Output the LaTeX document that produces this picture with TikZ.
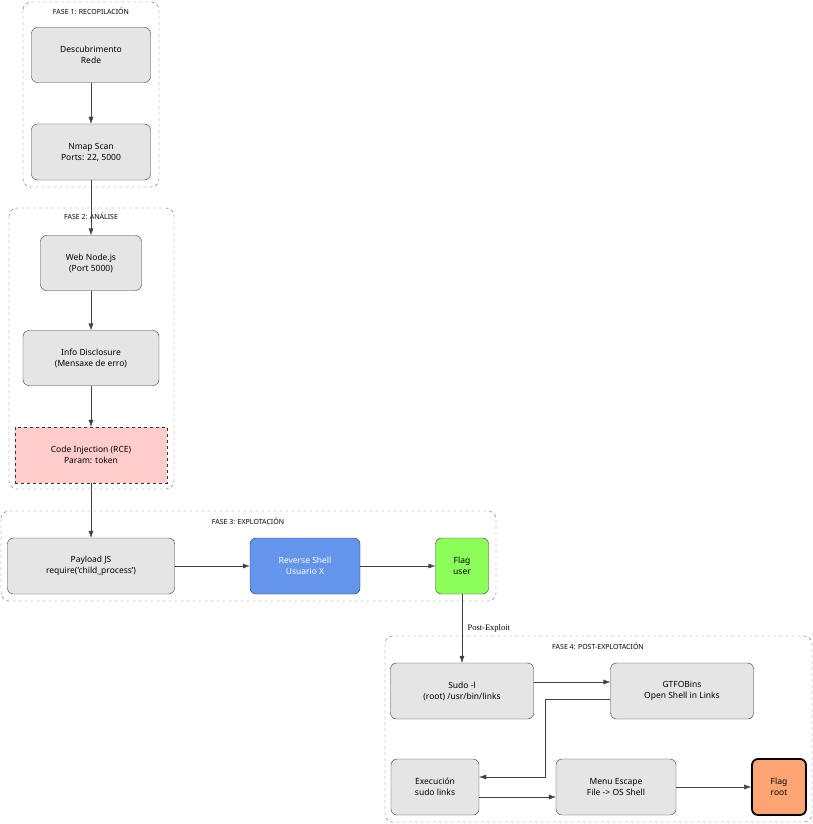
\documentclass[tikz,border=0pt]{standalone}
\usepackage{fontspec}
\setmainfont{Noto Sans}
\newfontfamily\serifpart{Liberation Serif}
\usetikzlibrary{arrows.meta}
\begin{document}
\begin{tikzpicture}[x=1pt,y=-1pt,
  box/.style={draw=black!80,rounded corners=6pt,fill=black!10,align=center,font=\fontsize{8.5}{11}\selectfont,inner sep=0pt},
  cl/.style={draw=black!60,dashed,rounded corners=8pt},
  cllab/.style={font=\fontsize{7}{8}\selectfont,anchor=center},
  ar/.style={draw=black!75,-{Latex[length=7pt,width=5pt]}}]
\useasboundingbox (0,0) rectangle (813,824);
% clusters
\draw[cl] (23,2) rectangle (159,187);
\node[cllab] (l1) at (91,11) {FASE 1: RECOPILACIÓN};
\draw[cl] (9,208) rectangle (174,489);
\node[cllab] (l2) at (91,216) {FASE 2: ANÁLISE};
\draw[cl] (1,511) rectangle (496,601);
\node[cllab] (l3) at (248,521) {FASE 3: EXPLOTACIÓN};
\draw[cl] (385,636) rectangle (812,822);
\node[cllab] (l4) at (598,646) {FASE 4: POST-EXPLOTACIÓN};
% nodes
\node[box,minimum width=119pt,minimum height=55pt] (desc) at (91,55) {Descubrimento\\Rede};
\node[box,minimum width=119pt,minimum height=56pt] (nmap) at (91,152) {Nmap Scan\\Ports: 22, 5000};
\node[box,minimum width=101pt,minimum height=55pt] (web) at (91,263) {Web Node.js\\(Port 5000)};
\node[box,minimum width=136pt,minimum height=55pt] (info) at (91,358) {Info Disclosure\\(Mensaxe de erro)};
\node[box,rounded corners=0pt,dashed,fill=red!20,minimum width=152pt,minimum height=56pt] (code) at (91,455) {Code Injection (RCE)\\Param: token};
\node[box,minimum width=167pt,minimum height=56pt] (pay) at (91,566) {Payload JS\\require('child\_process')};
\node[box,fill={rgb,255:red,100;green,149;blue,237},text=white,minimum width=110pt,minimum height=56pt] (rev) at (305,566) {Reverse Shell\\Usuario X};
\node[box,fill={rgb,255:red,140;green,255;blue,90},minimum width=53pt,minimum height=56pt] (fu) at (462,566) {Flag\\user};
\node[box,minimum width=143pt,minimum height=56pt] (sudo) at (462,691) {Sudo -l\\(root) /usr/bin/links};
\node[box,minimum width=143pt,minimum height=56pt] (gtfo) at (682,691) {GTFOBins\\Open Shell in Links};
\node[box,minimum width=88pt,minimum height=56pt] (exec) at (435,787) {Execución\\sudo links};
\node[box,minimum width=120pt,minimum height=56pt] (menu) at (616,787) {Menu Escape\\File -> OS Shell};
\node[box,line width=1.8pt,draw=black,fill={rgb,255:red,255;green,165;blue,116},minimum width=54pt,minimum height=56pt] (fr) at (779,787) {Flag\\root};
% edges
\draw[ar] (desc) -- (nmap);
\draw[ar] (nmap) -- (web);
\draw[ar] (web) -- (info);
\draw[ar] (info) -- (code);
\draw[ar] (code) -- (pay);
\draw[ar] (pay) -- (rev);
\draw[ar] (rev) -- (fu);
\draw[ar] (fu) -- node[right,font=\serifpart\fontsize{8.5}{10}\selectfont,xshift=2pt] {Post-Exploit} (sudo);
\draw[ar] (sudo.east |- 0,682) -- (gtfo.west |- 0,682);
\draw[ar] (gtfo.west |- 0,699) -- (545,699) -- (545,777) -- (exec.east |- 0,777);
\draw[ar] (exec.east |- 0,797) -- (menu.west |- 0,797);
\draw[ar] (menu) -- (fr);
\end{tikzpicture}
\end{document}
